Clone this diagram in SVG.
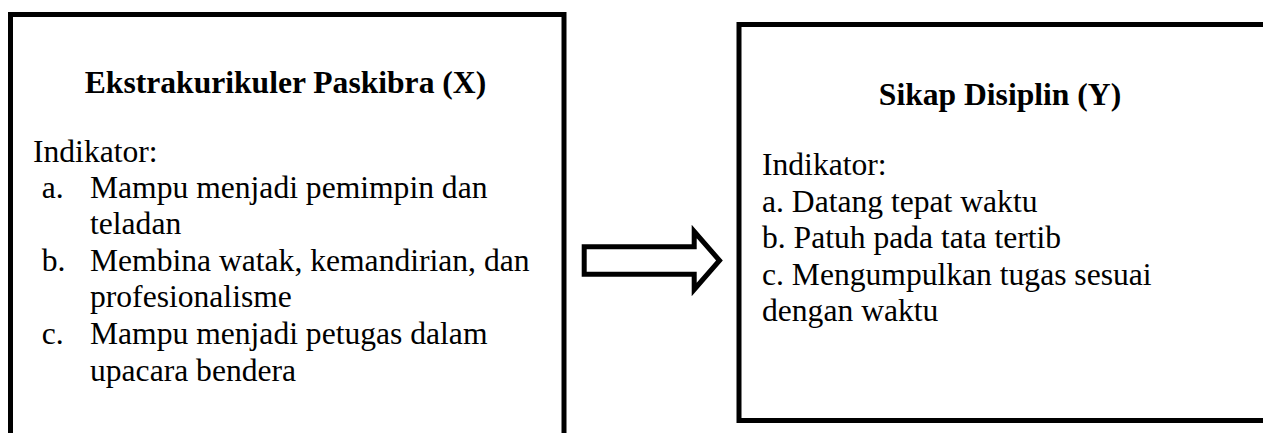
<svg xmlns="http://www.w3.org/2000/svg" width="1263" height="433" viewBox="0 0 1263 433">
  <style>
    .box { fill: #ffffff; stroke: #000000; stroke-width: 5; }
    .arrow { fill: #ffffff; stroke: #000000; stroke-width: 5; stroke-linejoin: miter; }
    .title { font-family: "Liberation Serif", "Times New Roman", serif; font-size: 31.6px; font-weight: bold; fill: #000000; }
    .body { font-family: "Liberation Serif", "Times New Roman", serif; font-size: 31.6px; fill: #000000; }
  </style>
  <rect x="0" y="0" width="1263" height="433" fill="#ffffff"/>

  <!-- Variable X -->
  <g id="node-x">
    <rect class="box" x="10.5" y="14.5" width="553.5" height="440"/>
    <text class="title" x="285.5" y="93" text-anchor="middle">Ekstrakurikuler Paskibra (X)</text>
    <text class="body" x="33" y="161.7">Indikator:</text>
    <text class="body" x="41.7" y="197.5">a.</text>
    <text class="body" x="90" y="197.5">Mampu menjadi pemimpin dan</text>
    <text class="body" x="90" y="234">teladan</text>
    <text class="body" x="41.7" y="270.5">b.</text>
    <text class="body" x="90" y="270.5">Membina watak, kemandirian, dan</text>
    <text class="body" x="90" y="307">profesionalisme</text>
    <text class="body" x="41.7" y="344">c.</text>
    <text class="body" x="90" y="344">Mampu menjadi petugas dalam</text>
    <text class="body" x="90" y="381">upacara bendera</text>
  </g>

  <!-- Variable Y -->
  <g id="node-y">
    <rect class="box" x="739" y="24.5" width="600" height="396"/>
    <text class="title" x="1000" y="105" text-anchor="middle">Sikap Disiplin (Y)</text>
    <text class="body" x="762" y="175">Indikator:</text>
    <text class="body" x="762" y="211.5">a. Datang tepat waktu</text>
    <text class="body" x="762" y="248">b. Patuh pada tata tertib</text>
    <text class="body" x="762" y="284.5">c. Mengumpulkan tugas sesuai</text>
    <text class="body" x="762" y="321">dengan waktu</text>
  </g>

  <!-- Connectors -->
  <g id="connectors">
    <polygon class="arrow" points="584.2,246.8 694.2,246.8 694.2,231.5 719.5,260.5 694.2,289.5 694.2,274.2 584.2,274.2"/>
  </g>
</svg>
